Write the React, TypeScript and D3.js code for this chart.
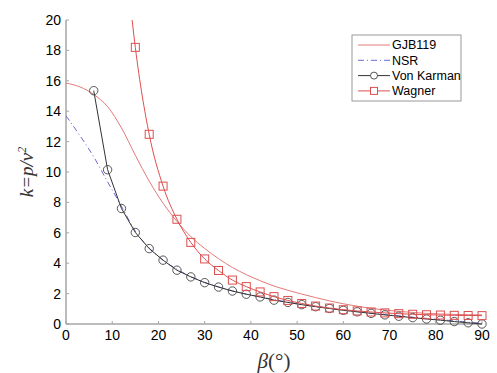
import React from 'react';
import * as d3 from 'd3';

// angles in degrees, k = p / v^2
const markerAngles = [6, 9, 12, 15, 18, 21, 24, 27, 30, 33, 36, 39, 42, 45, 48, 51, 54, 57, 60, 63, 66, 69, 72, 75, 78, 81, 84, 87, 90];
const vonKarman = [15.35, 10.15, 7.6, 6.02, 4.96, 4.2, 3.54, 3.1, 2.72, 2.43, 2.17, 1.96, 1.78, 1.57, 1.42, 1.27, 1.14, 1.02, 0.9, 0.8, 0.7, 0.6, 0.51, 0.42, 0.33, 0.25, 0.16, 0.08, 0.0];

const wagnerAngles = [14.3, 15, 18, 21, 24, 27, 30, 33, 36, 39, 42, 45, 48, 51, 54, 57, 60, 63, 66, 69, 72, 75, 78, 81, 84, 87, 90];
const wagner = [20, 18.2, 12.48, 9.07, 6.89, 5.37, 4.28, 3.52, 2.89, 2.46, 2.11, 1.8, 1.55, 1.35, 1.18, 1.05, 0.94, 0.86, 0.79, 0.73, 0.68, 0.64, 0.61, 0.59, 0.57, 0.56, 0.55];

const curveAngles = [0, 3, 6, 9, 12, 15, 18, 21, 24, 27, 30, 33, 36, 39, 42, 45, 48, 51, 54, 57, 60, 63, 66, 69, 72, 75, 78, 81, 84, 87, 90];
const gjb119 = [15.85, 15.6, 15.1, 14.3, 12.9, 11.1, 9.4, 7.95, 6.75, 5.75, 4.97, 4.3, 3.72, 3.25, 2.85, 2.5, 2.22, 1.97, 1.74, 1.52, 1.33, 1.17, 1.03, 0.92, 0.83, 0.76, 0.7, 0.66, 0.63, 0.61, 0.6];
const nsr = [13.7, 12.4, 11.0, 9.35, 7.75, 6.1, 5.0, 4.2, 3.6, 3.12, 2.74, 2.44, 2.18, 1.97, 1.78, 1.6, 1.44, 1.29, 1.15, 1.03, 0.92, 0.81, 0.71, 0.62, 0.53, 0.45, 0.37, 0.29, 0.21, 0.12, 0.05];

const xTicks = [0, 10, 20, 30, 40, 50, 60, 70, 80, 90];
const yTicks = [0, 2, 4, 6, 8, 10, 12, 14, 16, 18, 20];
const legendNames = ['GJB119', 'NSR', 'Von Karman', 'Wagner'];

const W = 497, H = 373;
const margin = { top: 20, right: 15, bottom: 49, left: 66 };

const GJB_COLOR = '#e37a7a';
const NSR_COLOR = '#6a6ad6';
const VK_COLOR = '#333333';
const WAG_COLOR = '#dc4f4f';
const AXIS_COLOR = '#a6a6a6';

export default function App() {
  const x = d3.scaleLinear().domain([0, 90]).range([margin.left, W - margin.right]);
  const y = d3.scaleLinear().domain([0, 20]).range([H - margin.bottom, margin.top]);

  const smooth = d3.line<[number, number]>().x(d => x(d[0])).y(d => y(d[1])).curve(d3.curveMonotoneX);
  const straight = d3.line<[number, number]>().x(d => x(d[0])).y(d => y(d[1]));

  const gjbPts = curveAngles.map((a, i) => [a, gjb119[i]] as [number, number]);
  const nsrPts = curveAngles.map((a, i) => [a, nsr[i]] as [number, number]);
  const vkPts = markerAngles.map((a, i) => [a, vonKarman[i]] as [number, number]);
  const wagPts = wagnerAngles.map((a, i) => [a, wagner[i]] as [number, number]);
  const wagMarkers = wagPts.filter(d => d[0] % 3 === 0);

  const x0 = x(0), x1 = x(90), y0 = y(0), y1 = y(20);
  const sq = 8;

  const legendX = 352, legendY = 35, rowH = 15.3;

  return (
    <svg width={W} height={H} style={{ position: 'absolute', left: 0, top: 0 }} fontFamily="'Liberation Sans', Arial, sans-serif">
      <defs>
        <clipPath id="plot">
          <rect x={x0} y={y1} width={x1 - x0 + 6} height={y0 - y1 + 6} />
        </clipPath>
      </defs>
      <rect width={W} height={H} fill="#fff" />

      {/* axes */}
      <line x1={x0} x2={x0} y1={y1} y2={y0} stroke={AXIS_COLOR} strokeWidth={1.5} />
      <line x1={x0} x2={x1} y1={y0} y2={y0} stroke={AXIS_COLOR} strokeWidth={1.5} />
      {yTicks.map(t => (
        <g key={'y' + t}>
          <line x1={x0} x2={x0 + 3} y1={y(t)} y2={y(t)} stroke={AXIS_COLOR} />
          <text x={x0 - 5} y={y(t)} dy="0.35em" textAnchor="end" fontSize={14} fill="#000">{t}</text>
        </g>
      ))}
      {xTicks.map(t => (
        <g key={'x' + t}>
          <line x1={x(t)} x2={x(t)} y1={y0} y2={y0 - 3} stroke={AXIS_COLOR} />
          <text x={x(t)} y={y0 + 16} textAnchor="middle" fontSize={14} fill="#000">{t}</text>
        </g>
      ))}

      {/* series */}
      <g clipPath="url(#plot)" fill="none">
        <path d={smooth(gjbPts) || ''} stroke={GJB_COLOR} strokeWidth={1} />
        <path d={smooth(nsrPts) || ''} stroke={NSR_COLOR} strokeWidth={1} strokeDasharray="6,3,1,3" />
        <path d={straight(vkPts) || ''} stroke={VK_COLOR} strokeWidth={1} />
        {vkPts.map(d => (
          <circle key={'c' + d[0]} cx={x(d[0])} cy={y(d[1])} r={4.2} stroke="#444" strokeWidth={0.9} fill="none" />
        ))}
        <path d={smooth(wagPts) || ''} stroke={WAG_COLOR} strokeWidth={1} />
        {wagMarkers.map(d => (
          <rect key={'s' + d[0]} x={x(d[0]) - sq / 2} y={y(d[1]) - sq / 2} width={sq} height={sq} stroke={WAG_COLOR} strokeWidth={1} fill="none" />
        ))}
      </g>

      {/* axis titles */}
      <text transform={`translate(33, ${(y0 + y1) / 2}) rotate(-90)`} textAnchor="middle" fontFamily="'Liberation Serif', 'Times New Roman', serif" fontStyle="italic" fontSize={19} fill="#333">
        k=p/v<tspan dy="-7" fontSize={12}>2</tspan>
      </text>
      <text x={(x0 + x1) / 2} y={H - 5} textAnchor="middle" fontFamily="'Liberation Serif', 'Times New Roman', serif" fontSize={21} fill="#333">
        <tspan fontStyle="italic">β</tspan>(°)
      </text>

      {/* legend */}
      <rect x={legendX} y={legendY} width={109} height={66} fill="#fff" stroke="#999" strokeWidth={1} />
      {legendNames.map((name, i) => {
        const ly = legendY + 10 + i * rowH;
        const lx1 = legendX + 6, lx2 = legendX + 38, mid = (lx1 + lx2) / 2;
        let color = GJB_COLOR, dash: string | undefined;
        if (name === 'NSR') { color = NSR_COLOR; dash = '6,3,1,3'; }
        if (name === 'Von Karman') color = VK_COLOR;
        if (name === 'Wagner') color = WAG_COLOR;
        return (
          <g key={name}>
            <line x1={lx1} x2={lx2} y1={ly} y2={ly} stroke={color} strokeWidth={1} strokeDasharray={dash} />
            {name === 'Von Karman' && <circle cx={mid} cy={ly} r={3.5} fill="#fff" stroke="#444" strokeWidth={0.9} />}
            {name === 'Wagner' && <rect x={mid - 3.5} y={ly - 3.5} width={7} height={7} fill="#fff" stroke={WAG_COLOR} strokeWidth={1} />}
            <text x={legendX + 40} y={ly} dy="0.35em" fontSize={12.5} fill="#000">{name}</text>
          </g>
        );
      })}
    </svg>
  );
}
